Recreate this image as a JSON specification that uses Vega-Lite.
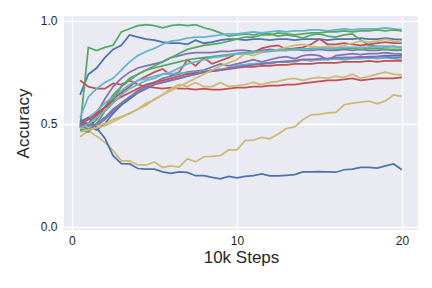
{
"$schema":"https://vega.github.io/schema/vega-lite/v6.json",
"width":354,"height":214,"autosize":"none",
"padding":{"left":64,"top":16,"right":14,"bottom":58},
"config":{"view":{"fill":"#EAEAF2","stroke":null},"font":"Liberation Sans",
"axis":{"domain":false,"ticks":false,"gridColor":"#FFFFFF","gridWidth":1.3,"labelFontSize":12,"labelColor":"#262626","titleFontSize":17,"titleFontWeight":"normal","titleColor":"#262626"}},
"data":{"values":[
{"s":"B1","x":0.5,"y":0.64},{"s":"B1","x":1,"y":0.74},{"s":"B1","x":1.5,"y":0.77},{"s":"B1","x":2,"y":0.82},{"s":"B1","x":2.5,"y":0.86},{"s":"B1","x":3,"y":0.88},{"s":"B1","x":3.5,"y":0.93},{"s":"B1","x":4,"y":0.92},{"s":"B1","x":4.5,"y":0.91},{"s":"B1","x":5,"y":0.905},{"s":"B1","x":5.5,"y":0.895},{"s":"B1","x":6,"y":0.89},{"s":"B1","x":6.5,"y":0.89},{"s":"B1","x":7,"y":0.885},{"s":"B1","x":7.5,"y":0.905},{"s":"B1","x":8,"y":0.89},{"s":"B1","x":8.5,"y":0.895},{"s":"B1","x":9,"y":0.905},{"s":"B1","x":9.5,"y":0.91},{"s":"B1","x":10,"y":0.91},{"s":"B1","x":10.5,"y":0.905},{"s":"B1","x":11,"y":0.91},{"s":"B1","x":11.5,"y":0.91},{"s":"B1","x":12,"y":0.905},{"s":"B1","x":12.5,"y":0.91},{"s":"B1","x":13,"y":0.91},{"s":"B1","x":13.5,"y":0.905},{"s":"B1","x":14,"y":0.91},{"s":"B1","x":14.5,"y":0.91},{"s":"B1","x":15,"y":0.91},{"s":"B1","x":15.5,"y":0.905},{"s":"B1","x":16,"y":0.91},{"s":"B1","x":16.5,"y":0.91},{"s":"B1","x":17,"y":0.91},{"s":"B1","x":17.5,"y":0.915},{"s":"B1","x":18,"y":0.91},{"s":"B1","x":18.5,"y":0.91},{"s":"B1","x":19,"y":0.915},{"s":"B1","x":19.5,"y":0.91},{"s":"B1","x":20,"y":0.908},
{"s":"G1","x":0.5,"y":0.48},{"s":"G1","x":1,"y":0.87},{"s":"G1","x":1.5,"y":0.855},{"s":"G1","x":2,"y":0.87},{"s":"G1","x":2.5,"y":0.88},{"s":"G1","x":3,"y":0.945},{"s":"G1","x":3.5,"y":0.96},{"s":"G1","x":4,"y":0.975},{"s":"G1","x":4.5,"y":0.98},{"s":"G1","x":5,"y":0.975},{"s":"G1","x":5.5,"y":0.965},{"s":"G1","x":6,"y":0.975},{"s":"G1","x":6.5,"y":0.98},{"s":"G1","x":7,"y":0.975},{"s":"G1","x":7.5,"y":0.98},{"s":"G1","x":8,"y":0.965},{"s":"G1","x":8.5,"y":0.955},{"s":"G1","x":9,"y":0.94},{"s":"G1","x":9.5,"y":0.925},{"s":"G1","x":10,"y":0.93},{"s":"G1","x":10.5,"y":0.935},{"s":"G1","x":11,"y":0.93},{"s":"G1","x":11.5,"y":0.94},{"s":"G1","x":12,"y":0.935},{"s":"G1","x":12.5,"y":0.925},{"s":"G1","x":13,"y":0.93},{"s":"G1","x":13.5,"y":0.925},{"s":"G1","x":14,"y":0.915},{"s":"G1","x":14.5,"y":0.93},{"s":"G1","x":15,"y":0.935},{"s":"G1","x":15.5,"y":0.925},{"s":"G1","x":16,"y":0.92},{"s":"G1","x":16.5,"y":0.93},{"s":"G1","x":17,"y":0.935},{"s":"G1","x":17.5,"y":0.905},{"s":"G1","x":18,"y":0.88},{"s":"G1","x":18.5,"y":0.875},{"s":"G1","x":19,"y":0.875},{"s":"G1","x":19.5,"y":0.875},{"s":"G1","x":20,"y":0.87},
{"s":"R1","x":0.5,"y":0.71},{"s":"R1","x":1,"y":0.68},{"s":"R1","x":1.5,"y":0.67},{"s":"R1","x":2,"y":0.67},{"s":"R1","x":2.5,"y":0.695},{"s":"R1","x":3,"y":0.69},{"s":"R1","x":3.5,"y":0.71},{"s":"R1","x":4,"y":0.69},{"s":"R1","x":4.5,"y":0.68},{"s":"R1","x":5,"y":0.675},{"s":"R1","x":5.5,"y":0.67},{"s":"R1","x":6,"y":0.675},{"s":"R1","x":6.5,"y":0.67},{"s":"R1","x":7,"y":0.67},{"s":"R1","x":7.5,"y":0.665},{"s":"R1","x":8,"y":0.67},{"s":"R1","x":8.5,"y":0.665},{"s":"R1","x":9,"y":0.665},{"s":"R1","x":9.5,"y":0.67},{"s":"R1","x":10,"y":0.675},{"s":"R1","x":10.5,"y":0.675},{"s":"R1","x":11,"y":0.68},{"s":"R1","x":11.5,"y":0.68},{"s":"R1","x":12,"y":0.685},{"s":"R1","x":12.5,"y":0.685},{"s":"R1","x":13,"y":0.69},{"s":"R1","x":13.5,"y":0.69},{"s":"R1","x":14,"y":0.695},{"s":"R1","x":14.5,"y":0.7},{"s":"R1","x":15,"y":0.705},{"s":"R1","x":15.5,"y":0.71},{"s":"R1","x":16,"y":0.71},{"s":"R1","x":16.5,"y":0.715},{"s":"R1","x":17,"y":0.72},{"s":"R1","x":17.5,"y":0.71},{"s":"R1","x":18,"y":0.715},{"s":"R1","x":18.5,"y":0.72},{"s":"R1","x":19,"y":0.72},{"s":"R1","x":19.5,"y":0.72},{"s":"R1","x":20,"y":0.725},
{"s":"P1","x":0.5,"y":0.5},{"s":"P1","x":1,"y":0.5},{"s":"P1","x":1.5,"y":0.55},{"s":"P1","x":2,"y":0.62},{"s":"P1","x":2.5,"y":0.68},{"s":"P1","x":3,"y":0.72},{"s":"P1","x":3.5,"y":0.75},{"s":"P1","x":4,"y":0.77},{"s":"P1","x":4.5,"y":0.78},{"s":"P1","x":5,"y":0.79},{"s":"P1","x":5.5,"y":0.8},{"s":"P1","x":6,"y":0.82},{"s":"P1","x":6.5,"y":0.83},{"s":"P1","x":7,"y":0.84},{"s":"P1","x":7.5,"y":0.845},{"s":"P1","x":8,"y":0.845},{"s":"P1","x":8.5,"y":0.845},{"s":"P1","x":9,"y":0.85},{"s":"P1","x":9.5,"y":0.85},{"s":"P1","x":10,"y":0.855},{"s":"P1","x":10.5,"y":0.855},{"s":"P1","x":11,"y":0.85},{"s":"P1","x":11.5,"y":0.855},{"s":"P1","x":12,"y":0.86},{"s":"P1","x":12.5,"y":0.855},{"s":"P1","x":13,"y":0.855},{"s":"P1","x":13.5,"y":0.86},{"s":"P1","x":14,"y":0.855},{"s":"P1","x":14.5,"y":0.855},{"s":"P1","x":15,"y":0.86},{"s":"P1","x":15.5,"y":0.855},{"s":"P1","x":16,"y":0.855},{"s":"P1","x":16.5,"y":0.86},{"s":"P1","x":17,"y":0.855},{"s":"P1","x":17.5,"y":0.86},{"s":"P1","x":18,"y":0.855},{"s":"P1","x":18.5,"y":0.855},{"s":"P1","x":19,"y":0.86},{"s":"P1","x":19.5,"y":0.855},{"s":"P1","x":20,"y":0.855},
{"s":"Y1","x":0.5,"y":0.437},{"s":"Y1","x":1,"y":0.466},{"s":"Y1","x":1.5,"y":0.44},{"s":"Y1","x":2,"y":0.41},{"s":"Y1","x":2.5,"y":0.37},{"s":"Y1","x":3,"y":0.32},{"s":"Y1","x":3.5,"y":0.32},{"s":"Y1","x":4,"y":0.3},{"s":"Y1","x":4.5,"y":0.3},{"s":"Y1","x":5,"y":0.315},{"s":"Y1","x":5.5,"y":0.288},{"s":"Y1","x":6,"y":0.296},{"s":"Y1","x":6.5,"y":0.29},{"s":"Y1","x":7,"y":0.33},{"s":"Y1","x":7.5,"y":0.315},{"s":"Y1","x":8,"y":0.34},{"s":"Y1","x":8.5,"y":0.342},{"s":"Y1","x":9,"y":0.345},{"s":"Y1","x":9.5,"y":0.373},{"s":"Y1","x":10,"y":0.373},{"s":"Y1","x":10.5,"y":0.418},{"s":"Y1","x":11,"y":0.42},{"s":"Y1","x":11.5,"y":0.434},{"s":"Y1","x":12,"y":0.427},{"s":"Y1","x":12.5,"y":0.45},{"s":"Y1","x":13,"y":0.477},{"s":"Y1","x":13.5,"y":0.485},{"s":"Y1","x":14,"y":0.52},{"s":"Y1","x":14.5,"y":0.543},{"s":"Y1","x":15,"y":0.545},{"s":"Y1","x":15.5,"y":0.553},{"s":"Y1","x":16,"y":0.555},{"s":"Y1","x":16.5,"y":0.592},{"s":"Y1","x":17,"y":0.6},{"s":"Y1","x":17.5,"y":0.605},{"s":"Y1","x":18,"y":0.61},{"s":"Y1","x":18.5,"y":0.597},{"s":"Y1","x":19,"y":0.61},{"s":"Y1","x":19.5,"y":0.64},{"s":"Y1","x":20,"y":0.633},
{"s":"C1","x":0.5,"y":0.53},{"s":"C1","x":1,"y":0.63},{"s":"C1","x":1.5,"y":0.67},{"s":"C1","x":2,"y":0.7},{"s":"C1","x":2.5,"y":0.72},{"s":"C1","x":3,"y":0.76},{"s":"C1","x":3.5,"y":0.8},{"s":"C1","x":4,"y":0.83},{"s":"C1","x":4.5,"y":0.85},{"s":"C1","x":5,"y":0.865},{"s":"C1","x":5.5,"y":0.885},{"s":"C1","x":6,"y":0.9},{"s":"C1","x":6.5,"y":0.905},{"s":"C1","x":7,"y":0.915},{"s":"C1","x":7.5,"y":0.92},{"s":"C1","x":8,"y":0.92},{"s":"C1","x":8.5,"y":0.925},{"s":"C1","x":9,"y":0.93},{"s":"C1","x":9.5,"y":0.935},{"s":"C1","x":10,"y":0.935},{"s":"C1","x":10.5,"y":0.94},{"s":"C1","x":11,"y":0.945},{"s":"C1","x":11.5,"y":0.94},{"s":"C1","x":12,"y":0.945},{"s":"C1","x":12.5,"y":0.95},{"s":"C1","x":13,"y":0.945},{"s":"C1","x":13.5,"y":0.95},{"s":"C1","x":14,"y":0.95},{"s":"C1","x":14.5,"y":0.955},{"s":"C1","x":15,"y":0.955},{"s":"C1","x":15.5,"y":0.95},{"s":"C1","x":16,"y":0.955},{"s":"C1","x":16.5,"y":0.96},{"s":"C1","x":17,"y":0.955},{"s":"C1","x":17.5,"y":0.96},{"s":"C1","x":18,"y":0.96},{"s":"C1","x":18.5,"y":0.96},{"s":"C1","x":19,"y":0.965},{"s":"C1","x":19.5,"y":0.96},{"s":"C1","x":20,"y":0.955},
{"s":"B2","x":0.5,"y":0.5},{"s":"B2","x":1,"y":0.49},{"s":"B2","x":1.5,"y":0.47},{"s":"B2","x":2,"y":0.5},{"s":"B2","x":2.5,"y":0.55},{"s":"B2","x":3,"y":0.59},{"s":"B2","x":3.5,"y":0.62},{"s":"B2","x":4,"y":0.65},{"s":"B2","x":4.5,"y":0.67},{"s":"B2","x":5,"y":0.69},{"s":"B2","x":5.5,"y":0.7},{"s":"B2","x":6,"y":0.71},{"s":"B2","x":6.5,"y":0.72},{"s":"B2","x":7,"y":0.73},{"s":"B2","x":7.5,"y":0.74},{"s":"B2","x":8,"y":0.75},{"s":"B2","x":8.5,"y":0.755},{"s":"B2","x":9,"y":0.76},{"s":"B2","x":9.5,"y":0.77},{"s":"B2","x":10,"y":0.78},{"s":"B2","x":10.5,"y":0.785},{"s":"B2","x":11,"y":0.79},{"s":"B2","x":11.5,"y":0.79},{"s":"B2","x":12,"y":0.795},{"s":"B2","x":12.5,"y":0.8},{"s":"B2","x":13,"y":0.8},{"s":"B2","x":13.5,"y":0.805},{"s":"B2","x":14,"y":0.81},{"s":"B2","x":14.5,"y":0.81},{"s":"B2","x":15,"y":0.81},{"s":"B2","x":15.5,"y":0.815},{"s":"B2","x":16,"y":0.815},{"s":"B2","x":16.5,"y":0.82},{"s":"B2","x":17,"y":0.82},{"s":"B2","x":17.5,"y":0.82},{"s":"B2","x":18,"y":0.825},{"s":"B2","x":18.5,"y":0.825},{"s":"B2","x":19,"y":0.83},{"s":"B2","x":19.5,"y":0.83},{"s":"B2","x":20,"y":0.83},
{"s":"G2","x":0.5,"y":0.47},{"s":"G2","x":1,"y":0.48},{"s":"G2","x":1.5,"y":0.52},{"s":"G2","x":2,"y":0.58},{"s":"G2","x":2.5,"y":0.64},{"s":"G2","x":3,"y":0.68},{"s":"G2","x":3.5,"y":0.72},{"s":"G2","x":4,"y":0.74},{"s":"G2","x":4.5,"y":0.76},{"s":"G2","x":5,"y":0.78},{"s":"G2","x":5.5,"y":0.8},{"s":"G2","x":6,"y":0.82},{"s":"G2","x":6.5,"y":0.84},{"s":"G2","x":7,"y":0.86},{"s":"G2","x":7.5,"y":0.87},{"s":"G2","x":8,"y":0.88},{"s":"G2","x":8.5,"y":0.885},{"s":"G2","x":9,"y":0.89},{"s":"G2","x":9.5,"y":0.9},{"s":"G2","x":10,"y":0.91},{"s":"G2","x":10.5,"y":0.92},{"s":"G2","x":11,"y":0.92},{"s":"G2","x":11.5,"y":0.93},{"s":"G2","x":12,"y":0.93},{"s":"G2","x":12.5,"y":0.94},{"s":"G2","x":13,"y":0.935},{"s":"G2","x":13.5,"y":0.93},{"s":"G2","x":14,"y":0.935},{"s":"G2","x":14.5,"y":0.94},{"s":"G2","x":15,"y":0.94},{"s":"G2","x":15.5,"y":0.945},{"s":"G2","x":16,"y":0.945},{"s":"G2","x":16.5,"y":0.95},{"s":"G2","x":17,"y":0.945},{"s":"G2","x":17.5,"y":0.95},{"s":"G2","x":18,"y":0.95},{"s":"G2","x":18.5,"y":0.955},{"s":"G2","x":19,"y":0.95},{"s":"G2","x":19.5,"y":0.955},{"s":"G2","x":20,"y":0.95},
{"s":"R2","x":0.5,"y":0.49},{"s":"R2","x":1,"y":0.5},{"s":"R2","x":1.5,"y":0.54},{"s":"R2","x":2,"y":0.58},{"s":"R2","x":2.5,"y":0.62},{"s":"R2","x":3,"y":0.65},{"s":"R2","x":3.5,"y":0.68},{"s":"R2","x":4,"y":0.71},{"s":"R2","x":4.5,"y":0.73},{"s":"R2","x":5,"y":0.75},{"s":"R2","x":5.5,"y":0.765},{"s":"R2","x":6,"y":0.735},{"s":"R2","x":6.5,"y":0.75},{"s":"R2","x":7,"y":0.81},{"s":"R2","x":7.5,"y":0.78},{"s":"R2","x":8,"y":0.82},{"s":"R2","x":8.5,"y":0.79},{"s":"R2","x":9,"y":0.805},{"s":"R2","x":9.5,"y":0.82},{"s":"R2","x":10,"y":0.84},{"s":"R2","x":10.5,"y":0.84},{"s":"R2","x":11,"y":0.845},{"s":"R2","x":11.5,"y":0.865},{"s":"R2","x":12,"y":0.875},{"s":"R2","x":12.5,"y":0.88},{"s":"R2","x":13,"y":0.86},{"s":"R2","x":13.5,"y":0.865},{"s":"R2","x":14,"y":0.87},{"s":"R2","x":14.5,"y":0.885},{"s":"R2","x":15,"y":0.91},{"s":"R2","x":15.5,"y":0.885},{"s":"R2","x":16,"y":0.885},{"s":"R2","x":16.5,"y":0.89},{"s":"R2","x":17,"y":0.885},{"s":"R2","x":17.5,"y":0.88},{"s":"R2","x":18,"y":0.885},{"s":"R2","x":18.5,"y":0.89},{"s":"R2","x":19,"y":0.895},{"s":"R2","x":19.5,"y":0.89},{"s":"R2","x":20,"y":0.89},
{"s":"P2","x":0.5,"y":0.52},{"s":"P2","x":1,"y":0.5},{"s":"P2","x":1.5,"y":0.49},{"s":"P2","x":2,"y":0.52},{"s":"P2","x":2.5,"y":0.56},{"s":"P2","x":3,"y":0.6},{"s":"P2","x":3.5,"y":0.63},{"s":"P2","x":4,"y":0.66},{"s":"P2","x":4.5,"y":0.68},{"s":"P2","x":5,"y":0.7},{"s":"P2","x":5.5,"y":0.72},{"s":"P2","x":6,"y":0.73},{"s":"P2","x":6.5,"y":0.74},{"s":"P2","x":7,"y":0.75},{"s":"P2","x":7.5,"y":0.755},{"s":"P2","x":8,"y":0.76},{"s":"P2","x":8.5,"y":0.775},{"s":"P2","x":9,"y":0.79},{"s":"P2","x":9.5,"y":0.78},{"s":"P2","x":10,"y":0.79},{"s":"P2","x":10.5,"y":0.8},{"s":"P2","x":11,"y":0.81},{"s":"P2","x":11.5,"y":0.8},{"s":"P2","x":12,"y":0.81},{"s":"P2","x":12.5,"y":0.82},{"s":"P2","x":13,"y":0.825},{"s":"P2","x":13.5,"y":0.815},{"s":"P2","x":14,"y":0.83},{"s":"P2","x":14.5,"y":0.835},{"s":"P2","x":15,"y":0.83},{"s":"P2","x":15.5,"y":0.81},{"s":"P2","x":16,"y":0.83},{"s":"P2","x":16.5,"y":0.835},{"s":"P2","x":17,"y":0.84},{"s":"P2","x":17.5,"y":0.835},{"s":"P2","x":18,"y":0.84},{"s":"P2","x":18.5,"y":0.84},{"s":"P2","x":19,"y":0.845},{"s":"P2","x":19.5,"y":0.84},{"s":"P2","x":20,"y":0.838},
{"s":"Y2","x":0.5,"y":0.48},{"s":"Y2","x":1,"y":0.48},{"s":"Y2","x":1.5,"y":0.49},{"s":"Y2","x":2,"y":0.5},{"s":"Y2","x":2.5,"y":0.52},{"s":"Y2","x":3,"y":0.535},{"s":"Y2","x":3.5,"y":0.55},{"s":"Y2","x":4,"y":0.57},{"s":"Y2","x":4.5,"y":0.6},{"s":"Y2","x":5,"y":0.615},{"s":"Y2","x":5.5,"y":0.64},{"s":"Y2","x":6,"y":0.67},{"s":"Y2","x":6.5,"y":0.69},{"s":"Y2","x":7,"y":0.68},{"s":"Y2","x":7.5,"y":0.7},{"s":"Y2","x":8,"y":0.68},{"s":"Y2","x":8.5,"y":0.68},{"s":"Y2","x":9,"y":0.7},{"s":"Y2","x":9.5,"y":0.68},{"s":"Y2","x":10,"y":0.685},{"s":"Y2","x":10.5,"y":0.69},{"s":"Y2","x":11,"y":0.7},{"s":"Y2","x":11.5,"y":0.69},{"s":"Y2","x":12,"y":0.7},{"s":"Y2","x":12.5,"y":0.705},{"s":"Y2","x":13,"y":0.715},{"s":"Y2","x":13.5,"y":0.72},{"s":"Y2","x":14,"y":0.71},{"s":"Y2","x":14.5,"y":0.72},{"s":"Y2","x":15,"y":0.725},{"s":"Y2","x":15.5,"y":0.72},{"s":"Y2","x":16,"y":0.73},{"s":"Y2","x":16.5,"y":0.725},{"s":"Y2","x":17,"y":0.74},{"s":"Y2","x":17.5,"y":0.72},{"s":"Y2","x":18,"y":0.73},{"s":"Y2","x":18.5,"y":0.74},{"s":"Y2","x":19,"y":0.75},{"s":"Y2","x":19.5,"y":0.74},{"s":"Y2","x":20,"y":0.736},
{"s":"C2","x":0.5,"y":0.5},{"s":"C2","x":1,"y":0.53},{"s":"C2","x":1.5,"y":0.56},{"s":"C2","x":2,"y":0.6},{"s":"C2","x":2.5,"y":0.63},{"s":"C2","x":3,"y":0.66},{"s":"C2","x":3.5,"y":0.69},{"s":"C2","x":4,"y":0.71},{"s":"C2","x":4.5,"y":0.72},{"s":"C2","x":5,"y":0.73},{"s":"C2","x":5.5,"y":0.74},{"s":"C2","x":6,"y":0.74},{"s":"C2","x":6.5,"y":0.745},{"s":"C2","x":7,"y":0.745},{"s":"C2","x":7.5,"y":0.75},{"s":"C2","x":8,"y":0.755},{"s":"C2","x":8.5,"y":0.76},{"s":"C2","x":9,"y":0.765},{"s":"C2","x":9.5,"y":0.77},{"s":"C2","x":10,"y":0.78},{"s":"C2","x":10.5,"y":0.785},{"s":"C2","x":11,"y":0.79},{"s":"C2","x":11.5,"y":0.795},{"s":"C2","x":12,"y":0.79},{"s":"C2","x":12.5,"y":0.8},{"s":"C2","x":13,"y":0.805},{"s":"C2","x":13.5,"y":0.8},{"s":"C2","x":14,"y":0.81},{"s":"C2","x":14.5,"y":0.805},{"s":"C2","x":15,"y":0.81},{"s":"C2","x":15.5,"y":0.81},{"s":"C2","x":16,"y":0.815},{"s":"C2","x":16.5,"y":0.81},{"s":"C2","x":17,"y":0.815},{"s":"C2","x":17.5,"y":0.815},{"s":"C2","x":18,"y":0.82},{"s":"C2","x":18.5,"y":0.815},{"s":"C2","x":19,"y":0.82},{"s":"C2","x":19.5,"y":0.815},{"s":"C2","x":20,"y":0.81},
{"s":"B3","x":0.5,"y":0.51},{"s":"B3","x":1,"y":0.53},{"s":"B3","x":1.5,"y":0.48},{"s":"B3","x":2,"y":0.43},{"s":"B3","x":2.5,"y":0.345},{"s":"B3","x":3,"y":0.307},{"s":"B3","x":3.5,"y":0.305},{"s":"B3","x":4,"y":0.283},{"s":"B3","x":4.5,"y":0.28},{"s":"B3","x":5,"y":0.28},{"s":"B3","x":5.5,"y":0.267},{"s":"B3","x":6,"y":0.259},{"s":"B3","x":6.5,"y":0.267},{"s":"B3","x":7,"y":0.264},{"s":"B3","x":7.5,"y":0.248},{"s":"B3","x":8,"y":0.248},{"s":"B3","x":8.5,"y":0.24},{"s":"B3","x":9,"y":0.233},{"s":"B3","x":9.5,"y":0.245},{"s":"B3","x":10,"y":0.238},{"s":"B3","x":10.5,"y":0.245},{"s":"B3","x":11,"y":0.248},{"s":"B3","x":11.5,"y":0.257},{"s":"B3","x":12,"y":0.247},{"s":"B3","x":12.5,"y":0.247},{"s":"B3","x":13,"y":0.25},{"s":"B3","x":13.5,"y":0.253},{"s":"B3","x":14,"y":0.267},{"s":"B3","x":14.5,"y":0.267},{"s":"B3","x":15,"y":0.268},{"s":"B3","x":15.5,"y":0.267},{"s":"B3","x":16,"y":0.265},{"s":"B3","x":16.5,"y":0.277},{"s":"B3","x":17,"y":0.28},{"s":"B3","x":17.5,"y":0.288},{"s":"B3","x":18,"y":0.288},{"s":"B3","x":18.5,"y":0.285},{"s":"B3","x":19,"y":0.296},{"s":"B3","x":19.5,"y":0.305},{"s":"B3","x":20,"y":0.277},
{"s":"G3","x":0.5,"y":0.47},{"s":"G3","x":1,"y":0.46},{"s":"G3","x":1.5,"y":0.5},{"s":"G3","x":2,"y":0.56},{"s":"G3","x":2.5,"y":0.62},{"s":"G3","x":3,"y":0.68},{"s":"G3","x":3.5,"y":0.71},{"s":"G3","x":4,"y":0.74},{"s":"G3","x":4.5,"y":0.76},{"s":"G3","x":5,"y":0.77},{"s":"G3","x":5.5,"y":0.78},{"s":"G3","x":6,"y":0.79},{"s":"G3","x":6.5,"y":0.8},{"s":"G3","x":7,"y":0.81},{"s":"G3","x":7.5,"y":0.815},{"s":"G3","x":8,"y":0.82},{"s":"G3","x":8.5,"y":0.825},{"s":"G3","x":9,"y":0.83},{"s":"G3","x":9.5,"y":0.835},{"s":"G3","x":10,"y":0.84},{"s":"G3","x":10.5,"y":0.845},{"s":"G3","x":11,"y":0.85},{"s":"G3","x":11.5,"y":0.85},{"s":"G3","x":12,"y":0.855},{"s":"G3","x":12.5,"y":0.855},{"s":"G3","x":13,"y":0.86},{"s":"G3","x":13.5,"y":0.86},{"s":"G3","x":14,"y":0.86},{"s":"G3","x":14.5,"y":0.865},{"s":"G3","x":15,"y":0.865},{"s":"G3","x":15.5,"y":0.865},{"s":"G3","x":16,"y":0.86},{"s":"G3","x":16.5,"y":0.865},{"s":"G3","x":17,"y":0.865},{"s":"G3","x":17.5,"y":0.86},{"s":"G3","x":18,"y":0.865},{"s":"G3","x":18.5,"y":0.865},{"s":"G3","x":19,"y":0.86},{"s":"G3","x":19.5,"y":0.86},{"s":"G3","x":20,"y":0.86},
{"s":"R3","x":0.5,"y":0.5},{"s":"R3","x":1,"y":0.52},{"s":"R3","x":1.5,"y":0.55},{"s":"R3","x":2,"y":0.58},{"s":"R3","x":2.5,"y":0.61},{"s":"R3","x":3,"y":0.63},{"s":"R3","x":3.5,"y":0.65},{"s":"R3","x":4,"y":0.67},{"s":"R3","x":4.5,"y":0.69},{"s":"R3","x":5,"y":0.7},{"s":"R3","x":5.5,"y":0.71},{"s":"R3","x":6,"y":0.72},{"s":"R3","x":6.5,"y":0.73},{"s":"R3","x":7,"y":0.74},{"s":"R3","x":7.5,"y":0.745},{"s":"R3","x":8,"y":0.75},{"s":"R3","x":8.5,"y":0.755},{"s":"R3","x":9,"y":0.76},{"s":"R3","x":9.5,"y":0.765},{"s":"R3","x":10,"y":0.77},{"s":"R3","x":10.5,"y":0.775},{"s":"R3","x":11,"y":0.775},{"s":"R3","x":11.5,"y":0.78},{"s":"R3","x":12,"y":0.78},{"s":"R3","x":12.5,"y":0.785},{"s":"R3","x":13,"y":0.785},{"s":"R3","x":13.5,"y":0.79},{"s":"R3","x":14,"y":0.79},{"s":"R3","x":14.5,"y":0.79},{"s":"R3","x":15,"y":0.795},{"s":"R3","x":15.5,"y":0.795},{"s":"R3","x":16,"y":0.795},{"s":"R3","x":16.5,"y":0.8},{"s":"R3","x":17,"y":0.8},{"s":"R3","x":17.5,"y":0.8},{"s":"R3","x":18,"y":0.805},{"s":"R3","x":18.5,"y":0.8},{"s":"R3","x":19,"y":0.805},{"s":"R3","x":19.5,"y":0.805},{"s":"R3","x":20,"y":0.805},
{"s":"P3","x":0.5,"y":0.5},{"s":"P3","x":1,"y":0.47},{"s":"P3","x":1.5,"y":0.5},{"s":"P3","x":2,"y":0.53},{"s":"P3","x":2.5,"y":0.57},{"s":"P3","x":3,"y":0.6},{"s":"P3","x":3.5,"y":0.63},{"s":"P3","x":4,"y":0.65},{"s":"P3","x":4.5,"y":0.67},{"s":"P3","x":5,"y":0.69},{"s":"P3","x":5.5,"y":0.7},{"s":"P3","x":6,"y":0.71},{"s":"P3","x":6.5,"y":0.72},{"s":"P3","x":7,"y":0.73},{"s":"P3","x":7.5,"y":0.74},{"s":"P3","x":8,"y":0.75},{"s":"P3","x":8.5,"y":0.76},{"s":"P3","x":9,"y":0.76},{"s":"P3","x":9.5,"y":0.77},{"s":"P3","x":10,"y":0.775},{"s":"P3","x":10.5,"y":0.78},{"s":"P3","x":11,"y":0.785},{"s":"P3","x":11.5,"y":0.79},{"s":"P3","x":12,"y":0.795},{"s":"P3","x":12.5,"y":0.8},{"s":"P3","x":13,"y":0.8},{"s":"P3","x":13.5,"y":0.805},{"s":"P3","x":14,"y":0.81},{"s":"P3","x":14.5,"y":0.81},{"s":"P3","x":15,"y":0.815},{"s":"P3","x":15.5,"y":0.815},{"s":"P3","x":16,"y":0.82},{"s":"P3","x":16.5,"y":0.82},{"s":"P3","x":17,"y":0.82},{"s":"P3","x":17.5,"y":0.825},{"s":"P3","x":18,"y":0.82},{"s":"P3","x":18.5,"y":0.825},{"s":"P3","x":19,"y":0.825},{"s":"P3","x":19.5,"y":0.82},{"s":"P3","x":20,"y":0.822},
{"s":"Y3","x":0.5,"y":0.46},{"s":"Y3","x":1,"y":0.47},{"s":"Y3","x":1.5,"y":0.48},{"s":"Y3","x":2,"y":0.49},{"s":"Y3","x":2.5,"y":0.51},{"s":"Y3","x":3,"y":0.53},{"s":"Y3","x":3.5,"y":0.55},{"s":"Y3","x":4,"y":0.57},{"s":"Y3","x":4.5,"y":0.59},{"s":"Y3","x":5,"y":0.62},{"s":"Y3","x":5.5,"y":0.64},{"s":"Y3","x":6,"y":0.66},{"s":"Y3","x":6.5,"y":0.68},{"s":"Y3","x":7,"y":0.7},{"s":"Y3","x":7.5,"y":0.72},{"s":"Y3","x":8,"y":0.74},{"s":"Y3","x":8.5,"y":0.76},{"s":"Y3","x":9,"y":0.78},{"s":"Y3","x":9.5,"y":0.795},{"s":"Y3","x":10,"y":0.81},{"s":"Y3","x":10.5,"y":0.84},{"s":"Y3","x":11,"y":0.83},{"s":"Y3","x":11.5,"y":0.845},{"s":"Y3","x":12,"y":0.85},{"s":"Y3","x":12.5,"y":0.86},{"s":"Y3","x":13,"y":0.87},{"s":"Y3","x":13.5,"y":0.88},{"s":"Y3","x":14,"y":0.885},{"s":"Y3","x":14.5,"y":0.875},{"s":"Y3","x":15,"y":0.87},{"s":"Y3","x":15.5,"y":0.875},{"s":"Y3","x":16,"y":0.87},{"s":"Y3","x":16.5,"y":0.88},{"s":"Y3","x":17,"y":0.89},{"s":"Y3","x":17.5,"y":0.9},{"s":"Y3","x":18,"y":0.895},{"s":"Y3","x":18.5,"y":0.9},{"s":"Y3","x":19,"y":0.91},{"s":"Y3","x":19.5,"y":0.9},{"s":"Y3","x":20,"y":0.895},
{"s":"C3","x":0.5,"y":0.48},{"s":"C3","x":1,"y":0.5},{"s":"C3","x":1.5,"y":0.53},{"s":"C3","x":2,"y":0.56},{"s":"C3","x":2.5,"y":0.6},{"s":"C3","x":3,"y":0.64},{"s":"C3","x":3.5,"y":0.67},{"s":"C3","x":4,"y":0.69},{"s":"C3","x":4.5,"y":0.71},{"s":"C3","x":5,"y":0.72},{"s":"C3","x":5.5,"y":0.74},{"s":"C3","x":6,"y":0.75},{"s":"C3","x":6.5,"y":0.77},{"s":"C3","x":7,"y":0.79},{"s":"C3","x":7.5,"y":0.8},{"s":"C3","x":8,"y":0.81},{"s":"C3","x":8.5,"y":0.82},{"s":"C3","x":9,"y":0.825},{"s":"C3","x":9.5,"y":0.83},{"s":"C3","x":10,"y":0.84},{"s":"C3","x":10.5,"y":0.84},{"s":"C3","x":11,"y":0.845},{"s":"C3","x":11.5,"y":0.85},{"s":"C3","x":12,"y":0.85},{"s":"C3","x":12.5,"y":0.855},{"s":"C3","x":13,"y":0.855},{"s":"C3","x":13.5,"y":0.86},{"s":"C3","x":14,"y":0.86},{"s":"C3","x":14.5,"y":0.86},{"s":"C3","x":15,"y":0.865},{"s":"C3","x":15.5,"y":0.865},{"s":"C3","x":16,"y":0.865},{"s":"C3","x":16.5,"y":0.87},{"s":"C3","x":17,"y":0.87},{"s":"C3","x":17.5,"y":0.87},{"s":"C3","x":18,"y":0.87},{"s":"C3","x":18.5,"y":0.875},{"s":"C3","x":19,"y":0.87},{"s":"C3","x":19.5,"y":0.875},{"s":"C3","x":20,"y":0.87}
]},
"mark":{"type":"line","strokeWidth":1.75,"clip":true},
"encoding":{
"x":{"field":"x","type":"quantitative","scale":{"domain":[-0.475,20.975],"nice":false,"zero":false},"axis":{"values":[0,10,20],"title":"10k Steps","labelPadding":5,"titlePadding":3}},
"y":{"field":"y","type":"quantitative","scale":{"domain":[-0.015,1.022],"nice":false,"zero":false},"axis":{"values":[0,0.5,1],"format":".1f","title":"Accuracy","labelPadding":7,"titlePadding":8}},
"color":{"field":"s","type":"nominal","legend":null,"scale":{"domain":["B1","G1","R1","P1","Y1","C1","B2","G2","R2","P2","Y2","C2","B3","G3","R3","P3","Y3","C3"],"range":["#4C72B0","#55A868","#C44E52","#8172B2","#CCB974","#64B5CD","#4C72B0","#55A868","#C44E52","#8172B2","#CCB974","#64B5CD","#4C72B0","#55A868","#C44E52","#8172B2","#CCB974","#64B5CD"]}},
"detail":{"field":"s"}
}
}
